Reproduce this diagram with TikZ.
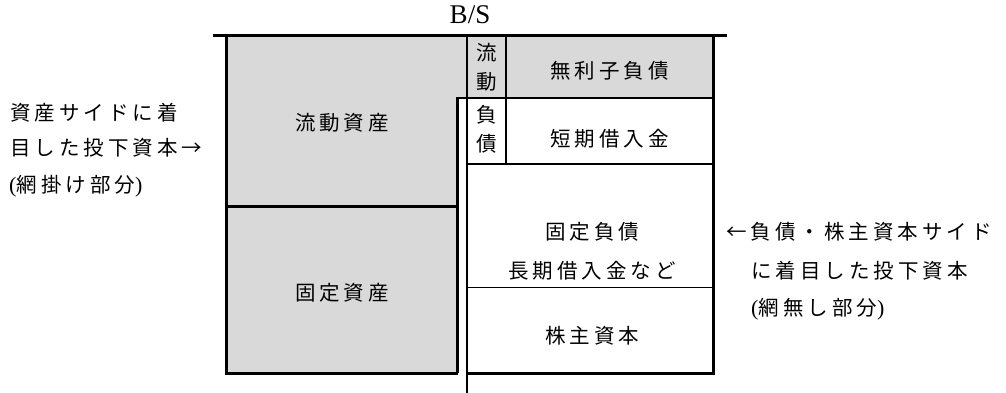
\documentclass[tikz,border=0pt]{standalone}
\usepackage{fontspec}
\setmainfont{Liberation Serif}
\newfontfamily\jp{Noto Sans CJK JP}
\newfontfamily\serifp{Liberation Serif}
\definecolor{bsgray}{HTML}{D9D9D9}
\newcommand{\jpsize}{\jp\fontsize{20.5pt}{24pt}\selectfont}
\newcommand{\pl}{{\serifp\fontsize{22pt}{24pt}\selectfont(}}
\newcommand{\pr}{{\serifp\fontsize{22pt}{24pt}\selectfont)}}
\newlength{\lsp}
\setlength{\lsp}{4pt}
\makeatletter
\def\spc#1{\spc@#1\@nil}
\def\spc@#1#2\@nil{#1\ifx\relax#2\relax\else\kern\lsp\spc@#2\@nil\fi}
\makeatother
\begin{document}
\begin{tikzpicture}[x=1pt,y=-1pt,
  thickline/.style={line width=3pt},
  midline/.style={line width=2.5pt},
  thinline/.style={line width=1.7pt},
  lbl/.style={inner sep=0pt,font=\jpsize},
  side/.style={inner sep=0pt,anchor=west,font=\jpsize}]
\useasboundingbox (0,0) rectangle (1006,393);
% shaded areas
\fill[bsgray] (226.5,36) -- (467,36) -- (467,98) -- (457.5,98) -- (457.5,373) -- (226.5,373) -- cycle;
\fill[bsgray] (467,36) rectangle (713.5,98);
% left box
\draw[thickline] (226.5,36) -- (226.5,373) -- (457.5,373);
\draw[midline] (457.5,373) -- (457.5,98) -- (713.5,98);
\draw[midline] (226.5,206.3) -- (457.5,206.3);
% right column
\draw[line width=2.7pt] (467,36) -- (467,393);
\draw[thickline] (713.5,36) -- (713.5,373) -- (467,373);
\draw[thinline] (506,36) -- (506,164);
\draw[thinline] (467,164) -- (713.5,164);
\draw[thinline] (467,287.5) -- (713.5,287.5);
% top line
\draw[thickline] (212.7,36) -- (726.7,36);
% labels
\node[inner sep=0pt] (bs) at (470,14.5) {\serifp\fontsize{27pt}{30pt}\selectfont B/S};
\node[lbl] (ca) at (342,123) {\spc{流動資産}};
\node[lbl] (fa) at (342,293) {\spc{固定資産}};
\node[lbl,align=center,font=\jp\fontsize{20.5pt}{29pt}\selectfont] (cl1) at (486.5,67) {流\\動};
\node[lbl,align=center,font=\jp\fontsize{20.5pt}{29pt}\selectfont] (cl2) at (486.5,129.5) {負\\債};
\node[lbl] (nil) at (609.5,71) {\spc{無利子負債}};
\node[lbl] (stl) at (609.5,139) {\spc{短期借入金}};
\node[lbl] (fl) at (592,232) {\spc{固定負債}};
\node[lbl] (ltl) at (592,271) {\spc{長期借入金など}};
\node[lbl] (eq) at (592,336) {\spc{株主資本}};
% side notes
\node[side] (l1) at (10,113) {\spc{資産サイドに着}};
\node[side] (l2) at (10,148) {\spc{目した投下資本→}};
\node[side] (l3) at (9,186) {\pl\spc{網掛け部分}\pr};
\node[side] (r1) at (726,232) {\spc{←負債・株主資本サイド}};
\node[side] (r2) at (751,271) {\spc{に着目した投下資本}};
\node[side] (r3) at (751,309) {\pl\spc{網無し部分}\pr};
\end{tikzpicture}
\end{document}
